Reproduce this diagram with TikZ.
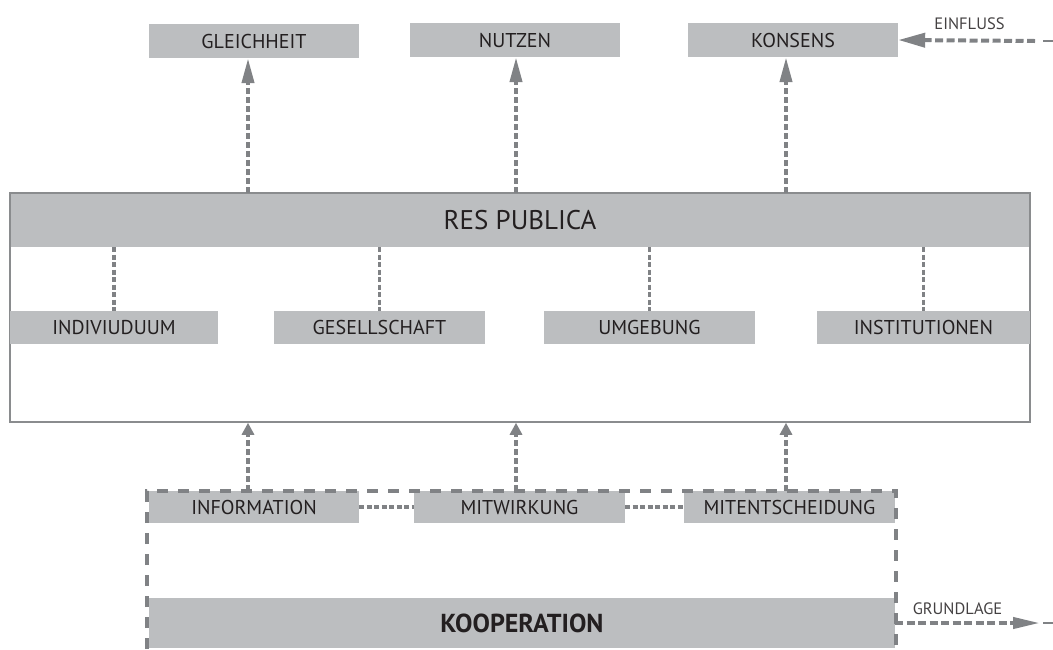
\documentclass[tikz,border=0pt]{standalone}
\usepackage{fontspec}
\setmainfont{PT Sans}
\usetikzlibrary{arrows.meta}
\definecolor{boxgray}{HTML}{BCBEC0}
\definecolor{linegray}{HTML}{808285}
\definecolor{framegray}{HTML}{8A8C8E}
\definecolor{ink}{HTML}{231F20}

\begin{document}
\begin{tikzpicture}[x=1pt,y=-1pt,
  box/.style={fill=boxgray, draw=none, text=ink, inner sep=0pt,
    font=\fontsize{20}{22}\selectfont},
  flow/.style={draw=linegray, line width=4pt, dash pattern=on 6pt off 3pt,
    -{Triangle[length=25pt,width=12pt]}},
  lift/.style={draw=linegray, line width=4pt, dash pattern=on 6pt off 3pt,
    -{Triangle[length=12pt,width=12pt]}},
  link/.style={draw=linegray, line width=3.5pt, dash pattern=on 5pt off 2.5pt},
  coop/.style={draw=linegray, line width=4.5pt, dash pattern=on 11pt off 10pt},
  side/.style={draw=linegray, line width=4pt, dash pattern=on 8pt off 3.5pt},
  tail/.style={draw=linegray, line width=1.5pt},
  note/.style={text=ink!85, inner sep=0pt, font=\fontsize{16.5}{18}\selectfont}
]
\useasboundingbox (0,0) rectangle (1053,649);

% goals
\node[box, minimum width=210pt, minimum height=34pt] (gl)  at (254,41) {GLEICHHEIT};
\node[box, minimum width=210pt, minimum height=34pt] (nu)  at (515,40) {NUTZEN};
\node[box, minimum width=210pt, minimum height=34pt] (kon) at (793,40) {KONSENS};

% res publica bar and its frame
\node[box, minimum width=1020pt, minimum height=54pt,
      font=\fontsize{27}{30}\selectfont] (res) at (520,220) {RES PUBLICA};
\node[draw=framegray, line width=1.5pt, inner sep=0pt,
      minimum width=1020pt, minimum height=229pt] (frame) at (520,307.5) {};

% fields
\node[box, minimum width=208pt, minimum height=33pt] (ind) at (114,327.5)   {INDIVIUDUUM};
\node[box, minimum width=211pt, minimum height=33pt] (ges) at (379.5,327.5) {GESELLSCHAFT};
\node[box, minimum width=211pt, minimum height=33pt] (umg) at (649.5,327.5) {UMGEBUNG};
\node[box, minimum width=213pt, minimum height=33pt] (ins) at (923.5,327.5) {INSTITUTIONEN};

% participation levels
\node[box, minimum width=210pt, minimum height=32pt] (inf) at (254,507)   {INFORMATION};
\node[box, minimum width=211pt, minimum height=32pt] (mit) at (519.5,507) {MITWIRKUNG};
\node[box, minimum width=211pt, minimum height=32pt] (mte) at (789.5,507) {MITENTSCHEIDUNG};

\node[box, minimum width=746pt, minimum height=50pt,
      font=\fontsize{26}{29}\selectfont\bfseries] (koop) at (522,623) {KOOPERATION};

% arrow columns
\coordinate (c1) at (248,0);
\coordinate (c2) at (516,0);
\coordinate (c3) at (786,0);

\draw[flow] (res.north -| c1) -- (gl.south -| c1);
\draw[flow] (res.north -| c2) -- (nu.south -| c2);
\draw[flow] (res.north -| c3) -- (kon.south -| c3);

\draw[link] (res.south -| ind) -- (ind.north);
\draw[link] (res.south -| ges) -- (ges.north);
\draw[link] (res.south -| umg) -- (umg.north);
\draw[link] (res.south -| ins) -- (ins.north);

\draw[lift] (inf.north -| c1) -- (frame.south -| c1);
\draw[lift] (mit.north -| c2) -- (frame.south -| c2);
\draw[lift] (mte.north -| c3) -- (frame.south -| c3);

\draw[link] (inf.east) -- (mit.west);
\draw[link] (mit.east) -- (mte.west);

% dashed bracket around the cooperation block
\coordinate (kbl) at (147,649);
\coordinate (ktl) at (147,491);
\coordinate (ktr) at (896,491);
\coordinate (kbr) at (896,649);
\draw[coop] (kbl) -- (ktl) -- (ktr) -- (kbr);

% influence from outside
\coordinate (ein0) at (1043,41);
\coordinate (ein1) at (1035,41);
\coordinate (einR) at (1053,41);
\draw[side, -{Triangle[length=27pt,width=14pt]}] (ein1) -- (kon.east);
\draw[tail] (ein0) -- (einR);
\node[note] (einl) at (969.5,23.5) {EINFLUSS};

% foundation to the outside
\coordinate (gr1) at (1040,623);
\coordinate (gr2) at (1043,623);
\coordinate (grR) at (1053,623);
\draw[side, -{Triangle[length=27pt,width=11pt]}] (koop.east) -- (gr1);
\draw[tail] (gr2) -- (grR);
\node[note] (grl) at (957.5,609) {GRUNDLAGE};
\end{tikzpicture}
\end{document}
